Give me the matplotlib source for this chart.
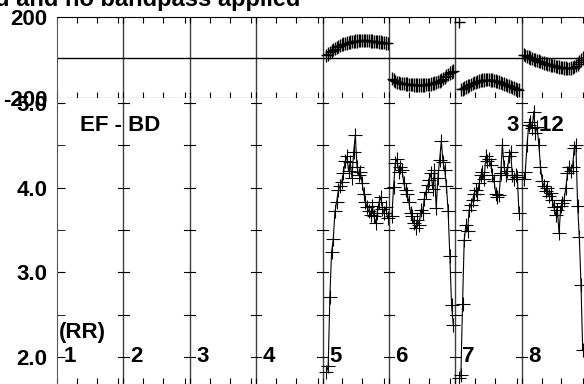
#plot.py
#Phase and amplitude of one baseline per scan, panels side by side

import numpy as np
import matplotlib.pyplot as plt

plt.rcParams['font.family'] = 'Liberation Sans'
plt.rcParams['font.weight'] = 'bold'

# panel (scan) labels along the bottom
panel_labels = ["1", "2", "3", "4", "5", "6", "7", "8"]

# scans with data: panel index and first/last sample as fraction of the panel
scan_panels = [4, 5, 6, 7]
scan_start = [0.06, 0.045, 0.06, 0.03]
scan_end = [0.98, 0.97, 0.96, 0.92]

# amplitude per integration
amp5 = [1.82, 1.89, 2.71, 3.24, 3.39, 3.72, 3.83, 3.97, 4.02, 4.07,
        4.17, 4.31, 4.37, 4.20, 4.30, 4.12, 4.42, 4.62, 4.25, 4.15,
        4.18, 4.06, 3.93, 3.83, 3.77, 3.72, 3.68, 3.78, 3.66, 3.58,
        3.70, 3.83, 3.89, 3.75, 3.70, 3.77, 3.64]
amp6 = [3.66, 4.01, 4.29, 4.34, 4.18, 4.25, 4.21, 4.05, 3.97, 3.92,
        3.83, 3.70, 3.66, 3.58, 3.52, 3.62, 3.56, 3.74, 3.70, 3.87,
        3.95, 4.03, 4.09, 4.17, 3.98, 4.21, 3.76, 4.12, 4.33, 4.55,
        4.30, 4.21, 4.02, 3.72, 3.19, 2.61, 2.38]
amp7 = [1.75, 1.79, 2.63, 3.38, 3.56, 3.49, 3.74, 3.80, 3.85, 3.93,
        3.97, 3.92, 4.05, 4.15, 4.19, 4.10, 4.37, 4.32, 4.34, 4.27,
        4.15, 4.08, 3.93, 3.89, 3.91, 4.17, 4.51, 4.25, 4.15, 4.20,
        4.37, 4.42, 4.15, 4.10, 4.15, 4.13, 3.70]
amp8 = [4.10, 4.19, 4.50, 4.74, 4.78, 4.70, 4.90, 4.65, 4.72, 4.51,
        4.25, 4.08, 4.02, 3.96, 4.00, 3.90, 3.94, 3.85, 3.77, 3.68,
        3.74, 3.46, 3.78, 3.82, 3.86, 4.00, 4.17, 4.25, 4.20, 4.25,
        4.47, 4.50, 3.78, 3.42, 2.85, 2.08]

# phase (degrees) per integration
phase5 = [10, 18, 25, 32, 38, 44, 50, 55, 59, 63,
          66, 69, 72, 74, 76, 78, 80, 81, 82, 83,
          83, 84, 84, 84, 83, 83, 82, 81, 80, 79,
          78, 77, 76, 74, 73, 72, 70]
phase6 = [-105, -112, -118, -122, -125, -127, -128, -129, -130, -131,
          -132, -133, -134, -135, -135, -136, -136, -136, -135, -135,
          -134, -133, -132, -130, -128, -126, -123, -120, -116, -111,
          -105, -98, -90, -83, -77, -71, -66]
phase7 = [177, -158, -155, -150, -146, -141, -137, -133, -129, -125,
          -122, -119, -116, -114, -112, -111, -110, -110, -110, -111,
          -112, -114, -116, -118, -121, -124, -127, -130, -134, -137,
          -141, -144, -148, -151, -155, -158, -161]
phase8 = [14, 10, 6, 2, -2, -6, -9, -12, -15, -18,
          -21, -24, -27, -30, -32, -35, -37, -39, -41, -43,
          -45, -47, -49, -50, -51, -52, -53, -53, -52, -50,
          -46, -40, -32, -22, -12, -3]

amps = [amp5, amp6, amp7, amp8]
phases = [phase5, phase6, phase7, phase8]

W, H = 584, 384
fig = plt.figure(figsize=(W/100, H/100), dpi=100)

def box(l, t, w, h):
    return [l/W, 1-(t+h)/H, w/W, h/H]

axp = fig.add_axes(box(57, 17, 531, 81))
axa = fig.add_axes(box(57, 98, 531, 286))

npan = len(panel_labels)
for ax in (axp, axa):
    ax.set_xlim(0, npan)
    ax.spines['right'].set_visible(False)
    ax.spines['left'].set_color('0.35')
    for b in range(1, npan):
        ax.axvline(b, color='0.25', lw=1, zorder=1)
    xt = [p + f for p in range(npan) for f in (0.0, 0.3, 0.6, 0.926)]
    ax.set_xticks(xt)
    ax.tick_params(axis='x', direction='in', length=4, labelbottom=False)

axp.set_ylim(-200, 200)
axp.axhline(0, color='k', lw=1)
axp.set_yticks([-200, 200])
axp.set_yticklabels(["-200", "200"])
axp.tick_params(axis='y', length=0, labelsize=16, pad=7)
axp.tick_params(axis='x', top=True, bottom=True)

axa.set_ylim(1.68, 5.06)
axa.spines['top'].set_visible(False)
axa.spines['bottom'].set_visible(False)
yt = [2.0, 3.0, 4.0, 5.0]
axa.set_yticks(yt)
axa.set_yticklabels(["%.1f" % v for v in yt])
axa.set_yticks([2.5, 3.5, 4.5], minor=True)
axa.tick_params(axis='y', which='both', direction='in', length=6, labelsize=16, pad=7)

# cross ticks on the panel separators
for b in range(1, npan):
    for v in [2.0, 2.5, 3.0, 3.5, 4.0, 4.5, 5.0]:
        axa.plot([b-0.08, b+0.08], [v, v], color='k', lw=0.8, zorder=1)

for pan, s, e, amp, ph in zip(scan_panels, scan_start, scan_end, amps, phases):
    t = pan + np.linspace(s, e, len(amp))
    axa.plot(t, amp, color='k', lw=0.8, marker='+', ms=10, mew=0.8, zorder=3)
    axp.errorbar(t, ph, yerr=33, xerr=0.08, fmt='none', ecolor='k',
                 elinewidth=1.0, zorder=3)

for i, lab in enumerate(panel_labels):
    axa.text(i + 0.1, 2.0, lab, ha='left', va='center', fontsize=16)

fig.text(300/W, 1-6/H, "d and no bandpass applied", ha='right', va='baseline', fontsize=17)
fig.text(80/W, 1-131/H, "EF - BD", ha='left', va='baseline', fontsize=16)
fig.text(507/W, 1-131/H, "3 - 12", ha='left', va='baseline', fontsize=16)
fig.text(59/W, 1-338/H, "(RR)", ha='left', va='baseline', fontsize=16)

fig.savefig("out.png", dpi=100)
